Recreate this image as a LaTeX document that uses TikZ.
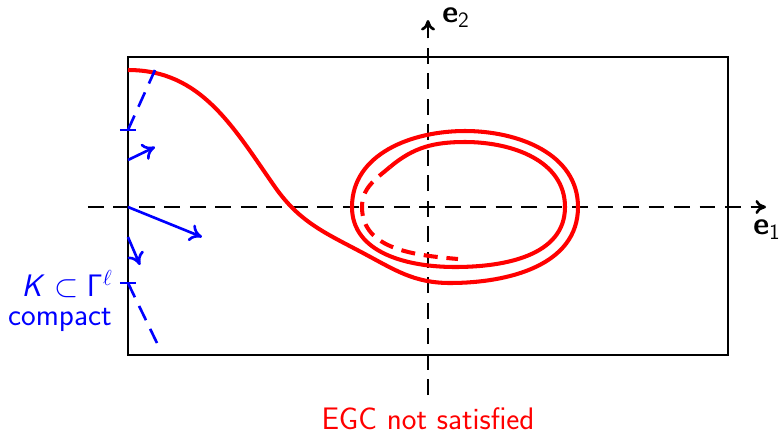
\RequirePackage{fix-cm}
\documentclass[tikz,border=0pt]{standalone}
\usetikzlibrary{arrows.meta}
\DeclareMathAlphabet{\mathsfit}{OT1}{cmss}{m}{sl}
\DeclareMathAlphabet{\mathsfbf}{OT1}{cmss}{bx}{n}
\newcommand{\sfGamma}{\mathsf{\mathchar"7100}}
\begin{document}
\begin{tikzpicture}[
  every node/.style={font=\fontsize{17.7}{21}\selectfont\sffamily, inner sep=1pt},
  frame/.style={line width=1.5pt},
  axis/.style={line width=1.5pt, dash pattern=on 9pt off 5.5pt, -{To[length=6pt,width=8pt]}},
  orbit/.style={red, line width=2.3pt},
  bnd/.style={blue, line width=1.5pt},
  vec/.style={bnd, -{To[length=7pt,width=10pt]}}]
\useasboundingbox (-8.56,-4.54) rectangle (7.04,4.14);
% domain and axes
\draw[frame] (-6,-2.96) rectangle (6,3);
\draw[axis] (-6.8,0) -- (6.76,0);
\draw[axis] (0,-3.76) -- (0,3.74);
\node (e1) at (6.78,-0.46) {$\mathsfbf{e}_{\mathsf{1}}$};
\node (e2) at (0.56,3.78) {$\mathsfbf{e}_{\mathsf{2}}$};
% trajectory spiralling in
\draw[orbit] (-6,2.74) to[out=0,in=125] (-3.06,0.4) to[out=-55,in=152] (-1.3,-0.92)
  to[out=-28,in=180] (0.44,-1.52) to[out=0,in=-90] (3,0) to[out=90,in=0] (0.74,1.52)
  to[out=180,in=90] (-1.52,0) to[out=-90,in=180] (0.54,-1.2) to[out=0,in=-90] (2.74,0)
  to[out=90,in=0] (0.74,1.3) to[out=180,in=40] (-0.76,0.8);
\draw[orbit, dash pattern=on 8pt off 5pt] (-0.76,0.8) to[out=220,in=90] (-1.32,0)
  to[out=-90,in=175] (0.6,-1.04);
% compact set K on the boundary
\coordinate (ktop) at (-6,1.54);
\coordinate (kbot) at (-6,-1.52);
\draw[bnd] (-6.16,1.54) -- (-5.84,1.54);
\draw[bnd] (-6.16,-1.52) -- (-5.84,-1.52);
\draw[bnd, dash pattern=on 9pt off 5.5pt] (ktop) -- (-5.46,2.74);
\draw[bnd, dash pattern=on 9pt off 5.5pt] (kbot) -- (-5.42,-2.72);
\draw[vec] (-6,0.94) -- (-5.46,1.2);
\draw[vec] (-6,0) -- (-4.52,-0.6);
\draw[vec] (-6,-0.6) -- (-5.76,-1.16);
\node[blue, anchor=east, inner sep=0pt] (kset) at (-6.3,-1.54) {$\mathsfit{K}\subset\sfGamma^\ell$};
\node[blue, anchor=east, inner sep=0pt] (compact) at (-6.32,-2.26) {compact};
\node[red] (egc) at (0,-4.24) {EGC not satisfied};
\end{tikzpicture}
\end{document}
